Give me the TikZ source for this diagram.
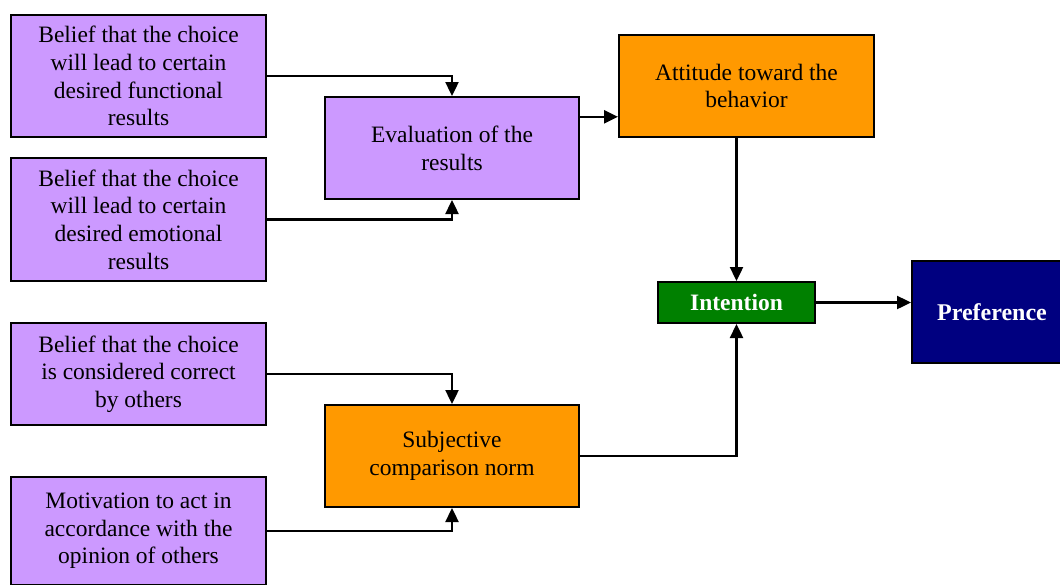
\documentclass[tikz,border=0pt]{standalone}
\usepackage{fontspec}
\setmainfont{Liberation Serif}
\usetikzlibrary{arrows.meta,calc}

\definecolor{lilac}{HTML}{CC99FF}
\definecolor{amber}{HTML}{FF9900}
\definecolor{leaf}{HTML}{008000}
\definecolor{navyblue}{HTML}{000080}

\tikzset{
	box/.style={draw=black,line width=2pt,align=center,inner sep=0pt,
		font=\fontsize{23.5}{27.7}\selectfont},
	belief/.style={box,fill=lilac,minimum width=255pt,minimum height=122pt},
	mid/.style={box,minimum width=254pt,minimum height=102pt},
	link/.style={line width=2.4pt,-{Triangle[length=14pt,width=13pt]}}
}

\begin{document}
\begin{tikzpicture}[x=1pt,y=-1pt]
				\useasboundingbox (0,0) rectangle (1060,584);
				% left column
				\node[belief] (funct) at (138.5,76) {Belief that the choice\\will lead to certain\\desired functional\\results};
				\node[belief,minimum height=123pt] (emot) at (138.5,219.5) {Belief that the choice\\will lead to certain\\desired emotional\\results};
				\node[belief,minimum height=102pt] (correct) at (138.5,374) {Belief that the choice\\is considered correct\\by others};
				\node[belief,minimum height=108pt] (motiv) at (138.5,531) {Motivation to act in\\accordance with the\\opinion of others};
				% middle
				\node[mid,fill=lilac] (eval) at (452,148) {Evaluation of the\\results};
				\node[mid,fill=amber] (subj) at (452,456) {Subjective\\comparison norm};
				\node[mid,fill=amber,minimum width=255pt] (att) at (746.5,86) {Attitude toward the\\behavior};
				% right
				\node[box,fill=leaf,text=white,minimum width=157pt,minimum height=41pt,font=\fontsize{23.5}{26}\selectfont\bfseries] (intent) at (736.5,302.5) {Intention};
				\node[box,fill=navyblue,text=white,minimum width=160pt,minimum height=102pt,font=\fontsize{24}{27}\selectfont\bfseries] (pref) at (992,312) {Preference};
				% arrows
				\draw[link] (funct.east) -| (eval.north);
				\draw[link] (emot.east) -| (eval.south);
				\draw[link] (correct.east) -| (subj.north);
				\draw[link] (motiv.east) -| (subj.south);
				\coordinate (evalout) at ($(eval.north east)!0.2!(eval.south east)$);
				\draw[link] (evalout) -- (evalout -| att.west);
				\draw[link] (att.south -| intent.north) -- (intent.north);
				\draw[link] (subj.east) -| (intent.south);
				\draw[link] (intent.east) -- (intent.east -| pref.west);
			\end{tikzpicture}
\end{document}
